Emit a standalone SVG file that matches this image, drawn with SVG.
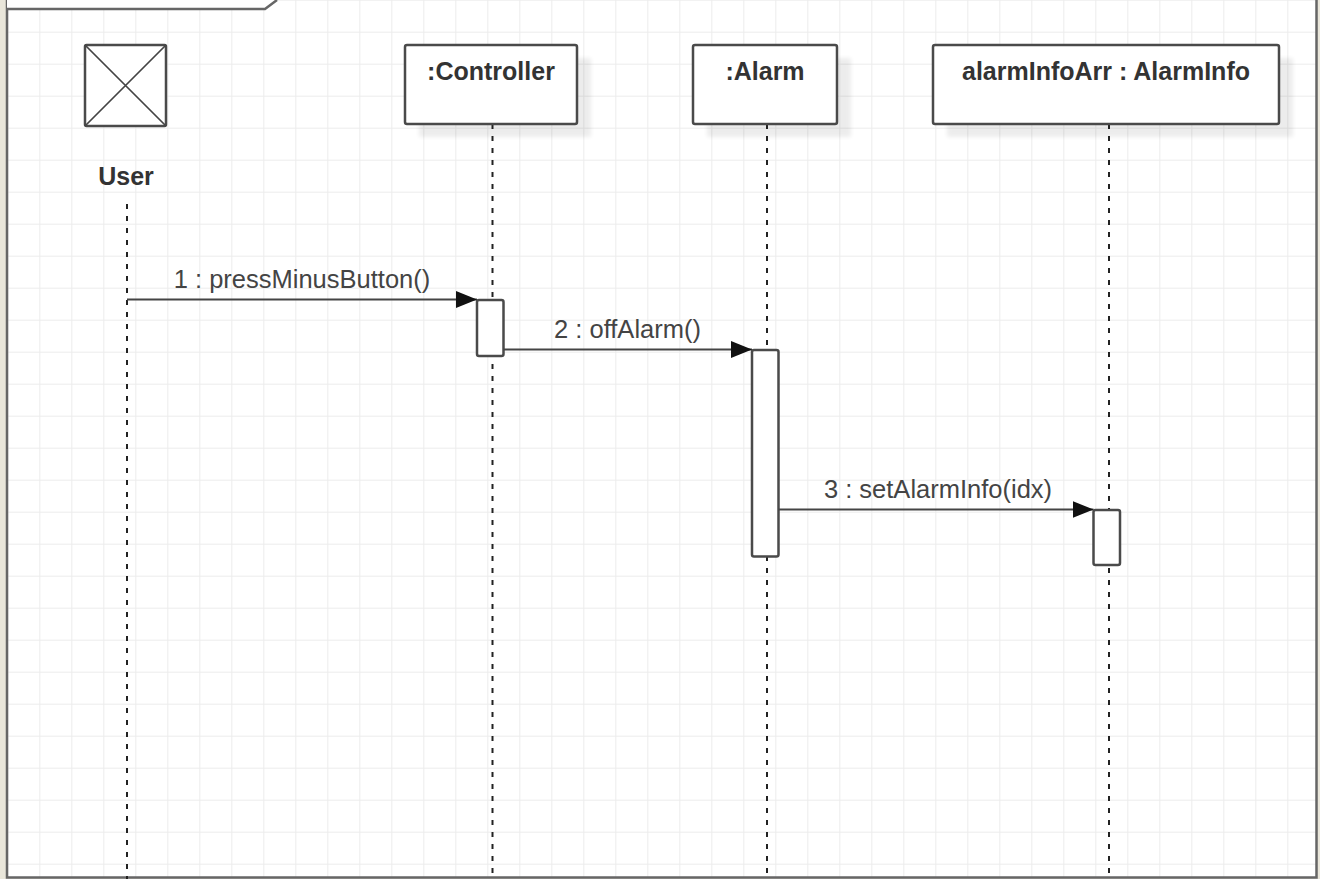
<svg xmlns="http://www.w3.org/2000/svg" width="1320" height="879" viewBox="0 0 1320 879">
<style>
.box{fill:#fff;stroke:#4a4a4a;stroke-width:2.5}
.act{fill:#fff;stroke:#4a4a4a;stroke-width:2.5}
.life{stroke:#222;stroke-width:2;stroke-dasharray:5 7;fill:none}
.name{font-family:"Liberation Sans",Arial,sans-serif;font-weight:bold;font-size:25px;fill:#333;text-anchor:middle}
.msg{stroke:#444;stroke-width:2;fill:none;marker-end:url(#arrow)}
.lbl{font-family:"Liberation Sans",Arial,sans-serif;font-size:25.5px;fill:#444;text-anchor:middle}
.shadow{fill:#000;opacity:0.07;filter:url(#blur)}
.frame{fill:none;stroke:#666;stroke-width:2.5}
</style>
<defs>
<pattern id="grid" patternUnits="userSpaceOnUse" x="7.3" y="-0.3" width="32" height="32">
<path d="M0,0 V32 M0,0 H32" stroke="#ececec" stroke-width="2" fill="none"/>
</pattern>
<marker id="arrow" markerUnits="userSpaceOnUse" markerWidth="21" markerHeight="17" refX="21" refY="8.5" orient="auto">
<path d="M0,0 L21,8.5 L0,17 Z" fill="#111"/>
</marker>
<filter id="blur" x="-10%" y="-10%" width="120%" height="120%">
<feGaussianBlur stdDeviation="2"/>
</filter>
</defs>
<rect x="0" y="0" width="1320" height="879" fill="#e9e6da"/>
<rect x="7" y="0" width="1310" height="878" fill="#fff"/>
<rect x="7" y="0" width="1310" height="878" fill="url(#grid)"/>
<g id="frame">
<path class="frame" d="M7,0 V877.5 H1316.5 V0"/>
<path d="M7,0 V9 H265 L277,0 Z" fill="#fff"/>
<path class="frame" d="M7,9 H265 L277,0"/>
</g>
<g id="user">
<line class="life" x1="127" y1="204" x2="127" y2="879"/>
<rect class="box" x="85" y="45" width="81" height="81" rx="1.5"/>
<path d="M85,45 L166,126 M166,45 L85,126" stroke="#444" stroke-width="1.7"/>
<text class="name" x="126" y="185">User</text>
</g>
<g id="controller">
<rect class="shadow" x="419" y="58" width="172" height="79"/>
<line class="life" x1="492.5" y1="124" x2="492.5" y2="879"/>
<rect class="box" x="405" y="45" width="172" height="79" rx="2"/>
<text class="name" x="491" y="80">:Controller</text>
<rect class="act" x="477" y="300" width="26.5" height="56" rx="2"/>
</g>
<g id="alarm">
<rect class="shadow" x="707" y="58" width="144" height="79"/>
<line class="life" x1="767" y1="124" x2="767" y2="879"/>
<rect class="box" x="693" y="45" width="144" height="79" rx="2"/>
<text class="name" x="765" y="80">:Alarm</text>
<rect class="act" x="752" y="350" width="26.5" height="206.5" rx="2"/>
</g>
<g id="alarmInfoArr">
<rect class="shadow" x="947" y="58" width="346" height="79"/>
<line class="life" x1="1109" y1="124" x2="1109" y2="879"/>
<rect class="box" x="933" y="45" width="346" height="79" rx="2"/>
<text class="name" x="1106" y="80">alarmInfoArr : AlarmInfo</text>
<rect class="act" x="1093.5" y="510" width="26.5" height="55" rx="2"/>
</g>
<g id="connectors">
<line class="msg" x1="127" y1="299.5" x2="477" y2="299.5"/>
<text class="lbl" x="302" y="288">1 : pressMinusButton()</text>
<line class="msg" x1="503.5" y1="349.5" x2="752" y2="349.5"/>
<text class="lbl" x="627.5" y="338">2 : offAlarm()</text>
<line class="msg" x1="778.5" y1="509.5" x2="1093.5" y2="509.5"/>
<text class="lbl" x="938" y="497.5">3 : setAlarmInfo(idx)</text>
</g>
</svg>
